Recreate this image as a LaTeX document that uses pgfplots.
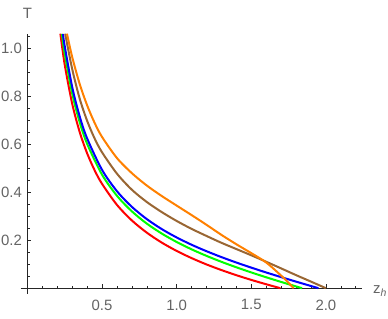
\documentclass[border=0pt]{standalone}
\usepackage{fontspec}
\setmainfont{Liberation Sans}
\usepackage{pgfplots}
\pgfplotsset{compat=1.18}
\definecolor{labgray}{RGB}{100,100,100}
\definecolor{mbrown}{rgb}{0.6,0.4,0.2}
\definecolor{morange}{rgb}{1,0.5,0}
\definecolor{mgreen}{rgb}{0,1,0}
\tikzset{crv/.style={line width=2bp, smooth, tension=0.5, mark=none}}
\begin{document}
\begin{tikzpicture}
\useasboundingbox (0,0) rectangle (388bp,319bp);
\begin{axis}[
  at={(20.7bp,25.3bp)}, anchor=south west,
  scale only axis, width=341bp, height=260bp,
  xmin=-0.045, xmax=2.24, ymin=-0.023, ymax=1.06,
  axis lines=middle, clip=false,
  axis line style={black!85, line width=0.8bp, -},
  xtick={0.5,1,1.5,2},
  minor xtick={0.1,0.2,0.3,0.4,0.6,0.7,0.8,0.9,1.1,1.2,1.3,1.4,1.6,1.7,1.8,1.9,2.1,2.2},
  ytick={0.2,0.4,0.6,0.8,1.0},
  minor ytick={0.05,0.1,0.15,0.25,0.3,0.35,0.45,0.5,0.55,0.65,0.7,0.75,0.85,0.9,0.95,1.05},
  tick align=inside,
  major tick length=4bp, minor tick length=2.3bp,
  every tick/.style={black!85, line width=0.6bp},
  /pgf/number format/assume math mode=true,
  xticklabel shift=8bp,
  yticklabel shift=2bp,
  xticklabel style={font=\fontsize{15}{18}\selectfont, text=labgray, anchor=north,
    /pgf/number format/fixed, /pgf/number format/fixed zerofill, /pgf/number format/precision=1},
  yticklabel style={font=\fontsize{15}{18}\selectfont, text=labgray, anchor=east,
    /pgf/number format/fixed, /pgf/number format/fixed zerofill, /pgf/number format/precision=1},
]
% red
\addplot[red, crv] coordinates {
(0.221,1.06) (0.25,0.931) (0.3,0.7685) (0.35,0.651) (0.4,0.562) (0.45,0.4916)
(0.5,0.4346) (0.6,0.347) (0.7,0.282) (0.8,0.2313) (0.9,0.1899) (1.0,0.1552)
(1.1,0.1253) (1.2,0.0989) (1.3,0.0755) (1.4,0.0541) (1.5,0.0345) (1.6,0.0163) (1.695,0.0)};
% green
\addplot[mgreen, crv] coordinates {
(0.231,1.059) (0.25,0.977) (0.3,0.811) (0.35,0.692) (0.4,0.6015) (0.5,0.473)
(0.6,0.385) (0.7,0.320) (0.8,0.269) (0.9,0.2276) (1.0,0.1924) (1.1,0.1618)
(1.2,0.1346) (1.3,0.1098) (1.4,0.0870) (1.5,0.0656) (1.6,0.0454) (1.7,0.0260)
(1.8,0.0073) (1.84,0.0)};
% blue
\addplot[blue, crv] coordinates {
(0.238,1.059) (0.25,1.008) (0.3,0.838) (0.35,0.716) (0.4,0.624) (0.5,0.493)
(0.6,0.404) (0.7,0.3387) (0.8,0.2878) (0.9,0.2462) (1.0,0.2113) (1.1,0.1809)
(1.2,0.1540) (1.3,0.1295) (1.4,0.1068) (1.5,0.0856) (1.6,0.0654) (1.7,0.0461)
(1.8,0.0273) (1.9,0.0091) (1.95,0.0)};
% brown
\addplot[mbrown, crv] coordinates {
(0.253,1.06) (0.3,0.913) (0.35,0.790) (0.4,0.6975) (0.45,0.624) (0.5,0.566)
(0.6,0.477) (0.7,0.410) (0.8,0.359) (0.9,0.317) (1.0,0.280) (1.1,0.247)
(1.2,0.2175) (1.3,0.189) (1.4,0.163) (1.5,0.137) (1.6,0.110) (1.7,0.0824)
(1.8,0.0544) (1.9,0.0274) (2.0,0.0)};
% orange
\addplot[morange, crv] coordinates {
(0.265,1.06) (0.3,0.963) (0.35,0.851) (0.4,0.762) (0.45,0.689) (0.5,0.630)
(0.6,0.542) (0.7,0.479) (0.8,0.4275) (0.9,0.384) (1.0,0.344) (1.1,0.3045)
(1.2,0.264) (1.3,0.222) (1.4,0.183) (1.5,0.146) (1.6,0.107) (1.7,0.0525)
(1.75,0.022) (1.784,0.0)};
\node[text=labgray, font=\fontsize{15}{18}\selectfont, anchor=center, yshift=20bp] at (axis cs:0,1.06) {T};
\node[text=labgray, font=\fontsize{15}{18}\selectfont, anchor=west, xshift=8bp, yshift=-3bp] at (axis cs:2.24,0) {z\textsubscript{\textit{h}}};
\end{axis}
\end{tikzpicture}
\end{document}
